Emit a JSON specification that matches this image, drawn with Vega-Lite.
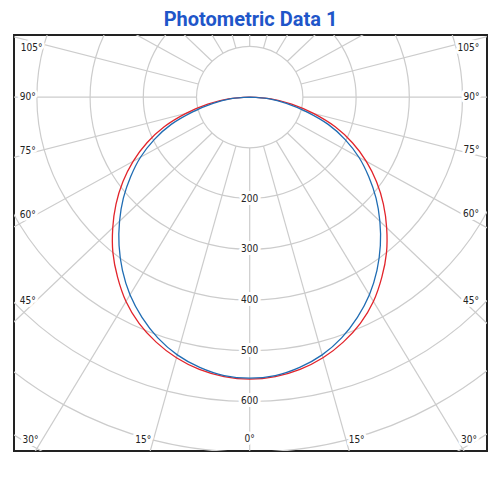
{
  "$schema": "https://vega.github.io/schema/vega-lite/v6.json",
  "width": 473,
  "height": 416,
  "autosize": "none",
  "padding": {"left": 14, "top": 35, "right": 13, "bottom": 49},
  "background": "white",
  "title": {
    "text": "Photometric Data 1",
    "color": "#1f56c9",
    "font": "Roboto",
    "fontSize": 20,
    "fontWeight": "bold",
    "anchor": "middle",
    "baseline": "bottom",
    "offset": 4,
    "dy": 19
  },
  "datasets": {
    "curves": [
      {"plane": "C0-C180", "angle": -90, "cd": 0},
      {"plane": "C0-C180", "angle": -85, "cd": 40},
      {"plane": "C0-C180", "angle": -80, "cd": 80},
      {"plane": "C0-C180", "angle": -75, "cd": 124},
      {"plane": "C0-C180", "angle": -70, "cd": 171},
      {"plane": "C0-C180", "angle": -65, "cd": 213},
      {"plane": "C0-C180", "angle": -60, "cd": 253},
      {"plane": "C0-C180", "angle": -55, "cd": 291},
      {"plane": "C0-C180", "angle": -50, "cd": 328},
      {"plane": "C0-C180", "angle": -45, "cd": 364},
      {"plane": "C0-C180", "angle": -40, "cd": 400},
      {"plane": "C0-C180", "angle": -35, "cd": 433},
      {"plane": "C0-C180", "angle": -30, "cd": 465},
      {"plane": "C0-C180", "angle": -25, "cd": 492},
      {"plane": "C0-C180", "angle": -20, "cd": 514},
      {"plane": "C0-C180", "angle": -15, "cd": 532},
      {"plane": "C0-C180", "angle": -10, "cd": 545},
      {"plane": "C0-C180", "angle": -5, "cd": 553},
      {"plane": "C0-C180", "angle": 0, "cd": 556},
      {"plane": "C0-C180", "angle": 5, "cd": 553},
      {"plane": "C0-C180", "angle": 10, "cd": 545},
      {"plane": "C0-C180", "angle": 15, "cd": 532},
      {"plane": "C0-C180", "angle": 20, "cd": 514},
      {"plane": "C0-C180", "angle": 25, "cd": 492},
      {"plane": "C0-C180", "angle": 30, "cd": 465},
      {"plane": "C0-C180", "angle": 35, "cd": 433},
      {"plane": "C0-C180", "angle": 40, "cd": 400},
      {"plane": "C0-C180", "angle": 45, "cd": 364},
      {"plane": "C0-C180", "angle": 50, "cd": 328},
      {"plane": "C0-C180", "angle": 55, "cd": 291},
      {"plane": "C0-C180", "angle": 60, "cd": 253},
      {"plane": "C0-C180", "angle": 65, "cd": 213},
      {"plane": "C0-C180", "angle": 70, "cd": 171},
      {"plane": "C0-C180", "angle": 75, "cd": 124},
      {"plane": "C0-C180", "angle": 80, "cd": 80},
      {"plane": "C0-C180", "angle": 85, "cd": 40},
      {"plane": "C0-C180", "angle": 90, "cd": 0},
      {"plane": "C90-C270", "angle": -90, "cd": 0},
      {"plane": "C90-C270", "angle": -85, "cd": 35},
      {"plane": "C90-C270", "angle": -80, "cd": 70},
      {"plane": "C90-C270", "angle": -75, "cd": 110},
      {"plane": "C90-C270", "angle": -70, "cd": 157},
      {"plane": "C90-C270", "angle": -65, "cd": 198},
      {"plane": "C90-C270", "angle": -60, "cd": 237},
      {"plane": "C90-C270", "angle": -55, "cd": 273},
      {"plane": "C90-C270", "angle": -50, "cd": 310},
      {"plane": "C90-C270", "angle": -45, "cd": 346},
      {"plane": "C90-C270", "angle": -40, "cd": 382},
      {"plane": "C90-C270", "angle": -35, "cd": 417},
      {"plane": "C90-C270", "angle": -30, "cd": 450},
      {"plane": "C90-C270", "angle": -25, "cd": 479},
      {"plane": "C90-C270", "angle": -20, "cd": 505},
      {"plane": "C90-C270", "angle": -15, "cd": 526},
      {"plane": "C90-C270", "angle": -10, "cd": 541},
      {"plane": "C90-C270", "angle": -5, "cd": 551},
      {"plane": "C90-C270", "angle": 0, "cd": 554},
      {"plane": "C90-C270", "angle": 5, "cd": 551},
      {"plane": "C90-C270", "angle": 10, "cd": 541},
      {"plane": "C90-C270", "angle": 15, "cd": 526},
      {"plane": "C90-C270", "angle": 20, "cd": 505},
      {"plane": "C90-C270", "angle": 25, "cd": 479},
      {"plane": "C90-C270", "angle": 30, "cd": 450},
      {"plane": "C90-C270", "angle": 35, "cd": 417},
      {"plane": "C90-C270", "angle": 40, "cd": 382},
      {"plane": "C90-C270", "angle": 45, "cd": 346},
      {"plane": "C90-C270", "angle": 50, "cd": 310},
      {"plane": "C90-C270", "angle": 55, "cd": 273},
      {"plane": "C90-C270", "angle": 60, "cd": 237},
      {"plane": "C90-C270", "angle": 65, "cd": 198},
      {"plane": "C90-C270", "angle": 70, "cd": 157},
      {"plane": "C90-C270", "angle": 75, "cd": 110},
      {"plane": "C90-C270", "angle": 80, "cd": 70},
      {"plane": "C90-C270", "angle": 85, "cd": 35},
      {"plane": "C90-C270", "angle": 90, "cd": 0}
    ],
    "rings": [
      {"cd": 100, "deg": [0, 15, 30, 45, 60, 75, 90, 105, 120, 135, 150, 165, 180, 195, 210, 225, 240, 255, 270, 285, 300, 315, 330, 345]},
      {"cd": 200, "deg": [0, 15, 30, 45, 60, 75, 90, 105, 120, 135, 150, 165, 180, 195, 210, 225, 240, 255, 270, 285, 300, 315, 330, 345]},
      {"cd": 300, "deg": [0, 15, 30, 45, 60, 75, 90, 105, 120, 135, 150, 165, 180, 195, 210, 225, 240, 255, 270, 285, 300, 315, 330, 345]},
      {"cd": 400, "deg": [0, 15, 30, 45, 60, 75, 90, 105, 120, 135, 150, 165, 180, 195, 210, 225, 240, 255, 270, 285, 300, 315, 330, 345]},
      {"cd": 500, "deg": [0, 15, 30, 45, 60, 75, 90, 105, 120, 135, 150, 165, 180, 195, 210, 225, 240, 255, 270, 285, 300, 315, 330, 345]},
      {"cd": 600, "deg": [0, 15, 30, 45, 60, 75, 90, 105, 120, 135, 150, 165, 180, 195, 210, 225, 240, 255, 270, 285, 300, 315, 330, 345]},
      {"cd": 700, "deg": [0, 15, 30, 45, 60, 75, 90, 105, 120, 135, 150, 165, 180, 195, 210, 225, 240, 255, 270, 285, 300, 315, 330, 345]},
      {"cd": 800, "deg": [0, 15, 30, 45, 60, 75, 90, 105, 120, 135, 150, 165, 180, 195, 210, 225, 240, 255, 270, 285, 300, 315, 330, 345]}
    ],
    "spokes": [
      {"deg": 0}, {"deg": 15}, {"deg": 30}, {"deg": 45}, {"deg": 60}, {"deg": 75},
      {"deg": 90}, {"deg": 105}, {"deg": 120}, {"deg": 135}, {"deg": 150}, {"deg": 165},
      {"deg": 180}, {"deg": 195}, {"deg": 210}, {"deg": 225}, {"deg": 240}, {"deg": 255},
      {"deg": 270}, {"deg": 285}, {"deg": 300}, {"deg": 315}, {"deg": 330}, {"deg": 345}
    ],
    "labels": [
      {"label": "200", "x": 0, "y": -200},
      {"label": "300", "x": 0, "y": -300},
      {"label": "400", "x": 0, "y": -400},
      {"label": "500", "x": 0, "y": -500},
      {"label": "600", "x": 0, "y": -600},
      {"label": "105°", "x": -410, "y": 96},
      {"label": "90°", "x": -417, "y": 0},
      {"label": "75°", "x": -417, "y": -107},
      {"label": "60°", "x": -417, "y": -233},
      {"label": "45°", "x": -417, "y": -401},
      {"label": "30°", "x": -412, "y": -675},
      {"label": "15°", "x": -200, "y": -675},
      {"label": "0°", "x": 0, "y": -674},
      {"label": "15°", "x": 201, "y": -675},
      {"label": "30°", "x": 412, "y": -675},
      {"label": "45°", "x": 416, "y": -401},
      {"label": "60°", "x": 416, "y": -231},
      {"label": "75°", "x": 417, "y": -104},
      {"label": "90°", "x": 417, "y": 0},
      {"label": "105°", "x": 411, "y": 96}
    ]
  },
  "encoding": {
    "x": {"field": "x", "type": "quantitative", "scale": {"domain": [-443, 446], "nice": false, "zero": false}, "axis": null},
    "y": {"field": "y", "type": "quantitative", "scale": {"domain": [-697.6, 122.5], "nice": false, "zero": false}, "axis": null}
  },
  "layer": [
    {
      "data": {"name": "spokes"},
      "transform": [
        {"calculate": "100 * sin(datum.deg * PI / 180)", "as": "x"},
        {"calculate": "-100 * cos(datum.deg * PI / 180)", "as": "y"},
        {"calculate": "1200 * sin(datum.deg * PI / 180)", "as": "x2"},
        {"calculate": "-1200 * cos(datum.deg * PI / 180)", "as": "y2"}
      ],
      "mark": {"type": "rule", "color": "#cccccc", "strokeWidth": 1.2, "clip": true},
      "encoding": {
        "x2": {"field": "x2"},
        "y2": {"field": "y2"}
      }
    },
    {
      "data": {"name": "rings"},
      "transform": [
        {"flatten": ["deg"]},
        {"calculate": "datum.cd * sin(datum.deg * PI / 180)", "as": "x"},
        {"calculate": "-datum.cd * cos(datum.deg * PI / 180)", "as": "y"}
      ],
      "mark": {"type": "line", "color": "#cccccc", "strokeWidth": 1.2, "interpolate": "cardinal-closed", "clip": true},
      "encoding": {
        "detail": {"field": "cd", "type": "nominal"},
        "order": {"field": "deg", "type": "quantitative"}
      }
    },
    {
      "data": {"name": "labels"},
      "mark": {"type": "text", "fill": "white", "stroke": "white", "strokeWidth": 6, "strokeJoin": "round", "font": "DejaVu Sans Condensed, DejaVu Sans, sans-serif", "fontSize": 10, "baseline": "middle", "align": "center"},
      "encoding": {"text": {"field": "label"}}
    },
    {
      "data": {"name": "labels"},
      "mark": {"type": "text", "fill": "#222222", "font": "DejaVu Sans Condensed, DejaVu Sans, sans-serif", "fontSize": 10, "baseline": "middle", "align": "center"},
      "encoding": {"text": {"field": "label"}}
    },
    {
      "data": {"name": "curves"},
      "transform": [
        {"calculate": "datum.cd * sin(datum.angle * PI / 180)", "as": "x"},
        {"calculate": "-datum.cd * cos(datum.angle * PI / 180)", "as": "y"}
      ],
      "mark": {"type": "line", "strokeWidth": 1.3, "interpolate": "cardinal", "clip": true},
      "encoding": {
        "color": {"field": "plane", "type": "nominal", "scale": {"domain": ["C0-C180", "C90-C270"], "range": ["#e2242b", "#1f6cb3"]}, "legend": null},
        "order": {"field": "angle", "type": "quantitative"}
      }
    }
  ],
  "config": {
    "view": {"stroke": "#222222", "strokeWidth": 2}
  }
}
